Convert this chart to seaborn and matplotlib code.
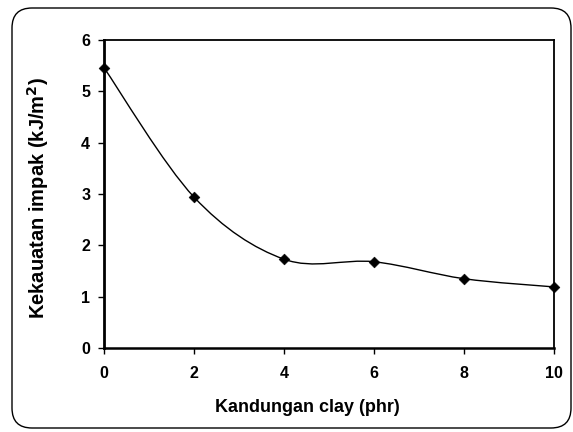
import matplotlib
matplotlib.use("Agg")
import matplotlib.pyplot as plt
import seaborn as sns
import pandas as pd
import numpy as np
from matplotlib.path import Path
from matplotlib.patches import PathPatch, FancyBboxPatch
from matplotlib.transforms import IdentityTransform

clay_phr = [0, 2, 4, 6, 8, 10]
impact_strength = [5.46, 2.94, 1.73, 1.68, 1.35, 1.19]
x_ticks = [0, 2, 4, 6, 8, 10]
y_ticks = [0, 1, 2, 3, 4, 5, 6]

sns.set_theme(style="white")
plt.rcParams['font.family'] = ['Liberation Sans', 'DejaVu Sans']
plt.rcParams['font.weight'] = 'bold'
plt.rcParams['text.color'] = 'black'
plt.rcParams['axes.labelcolor'] = 'black'
plt.rcParams['xtick.color'] = 'black'
plt.rcParams['ytick.color'] = 'black'

fig = plt.figure(figsize=(5.73, 4.32), dpi=100)
ax = fig.add_axes([104/573, 1-348/432, 450/573, 308/432])

df = pd.DataFrame({"x": clay_phr, "y": impact_strength})

# Smooth line (Excel-style cubic Bezier through the points)
pts = np.column_stack([df["x"], df["y"]]).astype(float)
n = len(pts)
verts = [tuple(pts[0])]
codes = [Path.MOVETO]
for i in range(n - 1):
    p0 = pts[i - 1] if i > 0 else pts[i]
    p1 = pts[i]
    p2 = pts[i + 1]
    p3 = pts[i + 2] if i + 2 < n else pts[i + 1]
    c1 = p1 + (p2 - p0) / 6.0
    c2 = p2 - (p3 - p1) / 6.0
    verts += [tuple(c1), tuple(c2), tuple(p2)]
    codes += [Path.CURVE4] * 3
ax.add_patch(PathPatch(Path(verts, codes), facecolor='none', edgecolor='black', lw=1.0, zorder=2))

sns.scatterplot(data=df, x="x", y="y", marker="D", s=30, color="black",
                edgecolor="black", ax=ax, zorder=3, clip_on=False, legend=False)

ax.set_xlim(0, 10)
ax.set_ylim(0, 6)
ax.set_xticks(x_ticks)
ax.set_yticks(y_ticks)
ax.set_xticklabels([str(t) for t in x_ticks], fontsize=11.5, fontweight='bold')
ax.set_yticklabels([str(t) for t in y_ticks], fontsize=11.5, fontweight='bold')
ax.tick_params(axis='both', direction='out', length=4, width=1, color='black',
               bottom=True, left=True, pad=6)
ax.tick_params(axis='x', pad=9)
for s in ax.spines.values():
    s.set_color('black')
    s.set_linewidth(1.3)
ax.spines['left'].set_linewidth(2)
ax.spines['bottom'].set_linewidth(1.8)

ax.set_xlabel("Kandungan clay (phr)", fontsize=13, fontweight='bold')
ax.set_ylabel("Kekauatan impak (kJ/m$^\\mathbf{2}$)", fontsize=14.5, fontweight='bold')
ax.xaxis.set_label_coords((307 - 104) / 450, (348 - 399) / 308)
ax.yaxis.set_label_coords((51 - 104) / 450, (348 - 198) / 308)

fig.patches.append(FancyBboxPatch((12, 4), 559, 420, boxstyle="round,pad=0,rounding_size=20",
                                  transform=IdentityTransform(), facecolor='none',
                                  edgecolor='black', lw=1.0, figure=fig))

fig.savefig("out.png", dpi=100)
